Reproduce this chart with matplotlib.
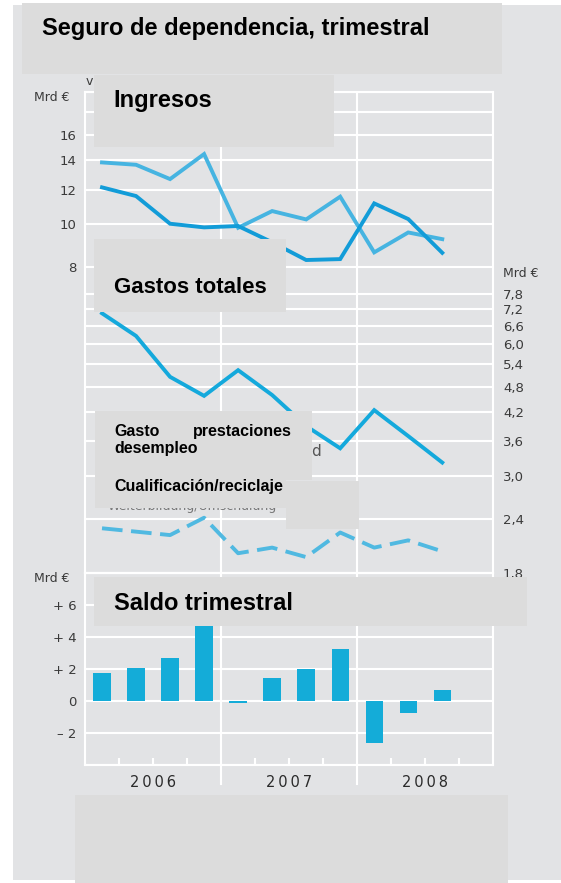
import matplotlib
matplotlib.use("Agg")
import matplotlib.pyplot as plt
from matplotlib.patches import Rectangle
from matplotlib.ticker import NullLocator, NullFormatter

# quarters Q1 2006 .. Q3 2008 (bar / point centres at i + 0.5)
quarters = list(range(11))
serie_clara = [13.84, 13.67, 12.68, 14.46, 9.82, 10.72, 10.26, 11.56, 8.63, 9.58, 9.25]
serie_oscura = [12.14, 11.6, 10.03, 9.84, 9.91, 9.1, 8.29, 8.33, 11.16, 10.28, 8.61]
gastos_totales = [7.05, 6.26, 5.05, 4.57, 5.23, 4.59, 3.9, 3.47, 4.24, 3.70, 3.22]
cualificacion = [2.28, 2.24, 2.20, 2.41, 2.00, 2.06, 1.96, 2.23, 2.06, 2.14, 2.02]
saldo = [1.73, 2.09, 2.71, 4.71, -0.15, 1.46, 1.98, 3.29, -2.62, -0.75, 0.67]

years = ["2\u20090\u20090\u20096", "2\u20090\u20090\u20097", "2\u20090\u20090\u20098"]
left_ticks = [8, 10, 12, 14, 16]
left_grid = [8, 10, 12, 14, 16, 18, 20]
right_ticks = [1.8, 2.4, 3.0, 3.6, 4.2, 4.8, 5.4, 6.0, 6.6, 7.2, 7.8]
saldo_ticks = [6, 4, 2, 0, -2]
saldo_labels = ["+ 6", "+ 4", "+ 2", "0", "\u2013 2"]

W, H = 561, 883
BG = "#e2e3e5"
BOX = "#dcdcdc"
TXT = "#3a3a3a"


def fx(x):
    return x / W


def fy(y):
    return 1 - y / H


def box(x0, y0, x1, y1, z=5):
    fig.patches.append(Rectangle((fx(x0), fy(y1)), (x1 - x0) / W, (y1 - y0) / H,
                                 transform=fig.transFigure, facecolor=BOX,
                                 edgecolor="none", zorder=z))


def label(x, y, s, size, **kw):
    fig.text(fx(x), fy(y), s, fontsize=size, fontweight="bold",
             family="Liberation Sans", va="baseline", zorder=6, **kw)


fig = plt.figure(figsize=(5.61, 8.83), dpi=100, facecolor="white")
box(12.7, 5, 561, 880, z=-5)
fig.patches[-1].set_facecolor(BG)

x = [q + 0.5 for q in quarters]

# upper panel (log scale, right axis shifted)
ax = fig.add_axes([fx(85), fy(573.3), (493.3 - 85) / W, (573.3 - 92.3) / H])
ax.set_facecolor("none")
ax.set_yscale("log")
ax.set_ylim(1.6, 20)
ax.set_xlim(0, 12)
for v in left_grid:
    ax.axhline(v, color="white", lw=1.5, zorder=0)
for v in [4, 8]:
    ax.axvline(v, color="white", lw=1.5, zorder=0)
ax.plot(x, serie_clara, color="#46b4e1", lw=2.8, solid_joinstyle="miter", zorder=2)
ax.plot(x, serie_oscura, color="#129cd8", lw=2.8, solid_joinstyle="miter", zorder=3)
ax.set_yticks(left_ticks)
ax.set_yticklabels([str(v) for v in left_ticks])
ax.yaxis.set_minor_locator(NullLocator())
ax.yaxis.set_minor_formatter(NullFormatter())
ax.set_xticks([])
ax.tick_params(axis="y", length=0, pad=6, labelsize=9.5, labelcolor=TXT)
for s in ax.spines.values():
    s.set_color("white")
    s.set_linewidth(1.5)

tw = ax.twinx()
tw.set_yscale("log")
tw.set_ylim(1.8, 22.5)
for v in right_ticks:
    tw.axhline(v, color="white", lw=1.5, zorder=0)
tw.plot(x, gastos_totales, color="#14a9dc", lw=2.8, solid_joinstyle="miter", zorder=3)
tw.plot(x, cualificacion, color="#50b9e1", lw=2.8, ls=(0, (5.3, 2.2)),
        dash_capstyle="butt", zorder=3)
tw.set_yticks(right_ticks)
tw.set_yticklabels([f"{v:.1f}".replace(".", ",") for v in right_ticks])
tw.yaxis.set_minor_locator(NullLocator())
tw.yaxis.set_minor_formatter(NullFormatter())
tw.tick_params(axis="y", length=0, pad=7, labelsize=9.5, labelcolor=TXT)
for s in tw.spines.values():
    s.set_visible(False)

# lower panel: quarterly balance
bx = fig.add_axes([fx(85), fy(765), (493.3 - 85) / W, (765 - 573.3) / H])
bx.set_facecolor("none")
bx.set_xlim(0, 12)
bx.set_ylim(-4, 8)
for v in range(-4, 9, 2):
    bx.axhline(v, color="white", lw=1.5, zorder=0)
for v in [4, 8]:
    bx.axvline(v, color="white", lw=1.5, zorder=0)
    bx.plot([v, v], [0, -0.1], color="white", lw=1.5,
            transform=bx.get_xaxis_transform(), clip_on=False)
bx.vlines([1, 2, 3, 5, 6, 7, 9, 10, 11], -4, -4 + 7 / 16, color="white", lw=1.5)
bx.bar(x, saldo, width=0.51, color="#14acd8", zorder=2)
bx.set_yticks(saldo_ticks)
bx.set_yticklabels(saldo_labels)
bx.set_xticks([2, 6, 10])
bx.set_xticklabels(years)
bx.tick_params(axis="y", length=0, pad=6, labelsize=9.5, labelcolor=TXT)
bx.tick_params(axis="x", length=0, pad=7, labelsize=10.5, labelcolor="#2a2a2a")
for s in bx.spines.values():
    s.set_color("white")
    s.set_linewidth(1.5)

# unit labels and leftover fragments
fig.text(fx(34.3), fy(97.3), "Mrd \u20ac", fontsize=9, color=TXT, va="center")
fig.text(fx(34.3), fy(579), "Mrd \u20ac", fontsize=9, color=TXT, va="center")
fig.text(fx(502.7), fy(273.3), "Mrd \u20ac", fontsize=9, color=TXT, va="center")
fig.text(fx(86), fy(85), "v", fontsize=9, color=TXT, va="baseline", zorder=1)
fig.text(fx(311), fy(456), "d", fontsize=11, color="#555555", va="baseline", zorder=1)
fig.text(fx(108), fy(510), "Weiterbildung/Umschulung", fontsize=9,
         color="#777777", va="baseline", zorder=1)

# overlay boxes
box(22, 3, 502.5, 74)
box(94, 75, 334.4, 146.7)
box(94, 239, 286, 311.7)
box(95, 411, 311.7, 480)
box(95, 411, 286, 507.5)
box(286, 481, 359, 529)
box(94, 576.7, 527, 625.7)
box(75, 795, 508, 883)

label(41.8, 35, "Seguro de dependencia, trimestral", 17)
label(113.7, 106.7, "Ingresos", 17)
label(113.7, 293.3, "Gastos totales", 16)
label(114.5, 436, "Gasto", 11.5)
label(291.5, 436, "prestaciones", 11.5, ha="right")
label(114.5, 453.3, "desempleo", 11.5)
label(114.5, 490.7, "Cualificaci\u00f3n/reciclaje", 11.5)
label(113.7, 610, "Saldo trimestral", 17)

fig.savefig("out.png", dpi=100, facecolor="white")
